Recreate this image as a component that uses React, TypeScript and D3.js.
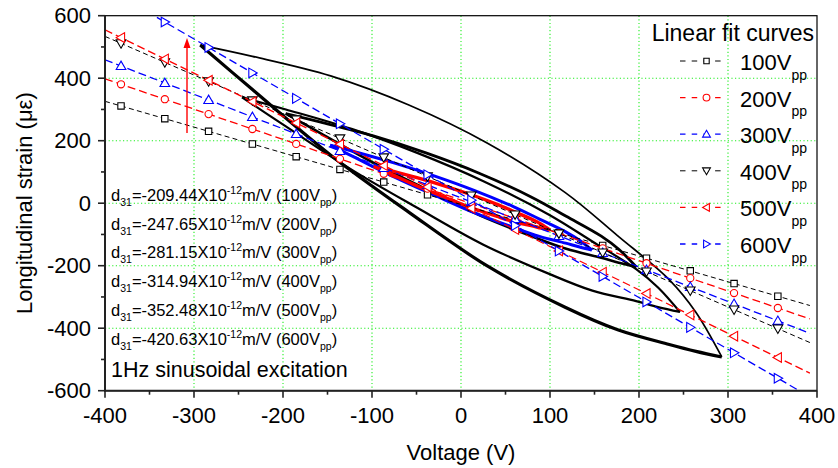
import React from "react";
import * as d3 from "d3";

// ---------- data ----------
const xTicks = [-400, -300, -200, -100, 0, 100, 200, 300, 400];
const yTicks = [-600, -400, -200, 0, 200, 400, 600];
const xGrid = [-300, -200, -100, 0, 100, 200, 300];
const yGrid = [-400, -200, 0, 200, 400];

const seriesNames = ["100", "200", "300", "400", "500", "600"];
const seriesColors = ["#000000", "#ff0000", "#0000ff", "#000000", "#ff0000", "#0000ff"];
const seriesSymbols = ["square", "circle", "triUp", "triDown", "triLeft", "triRight"];
const fitSlopes = [-0.825, -0.97, -1.105, -1.237, -1.387, -1.655];
const fitIntercepts = [-4, 10, 17, 39, 0, 29];
const fitRange = [-400, 392];
const d31Values = ["-209.44", "-247.65", "-281.15", "-314.94", "-352.48", "-420.63"];
const markerVoltages = [-382, -332.8, -283.6, -234.4, -185.2, -136, -86.8, -37.6, 11.6, 60.8, 110, 159.2, 208.4, 257.6, 306.8, 356];

// hysteresis loops (voltage, strain): upper and lower branches
const loop600Upper = [[-293, 506], [-234.4, 470], [-146.5, 407.5], [-58.6, 314.5], [29.3, 193], [117.2, 34], [175.8, -103.6], [234.4, -246], [263.7, -348], [293, -492]];
const loop600Lower = [[-293, 506], [-234, 363], [-146, 153], [-58, -30], [29, -200], [117, -333], [176, -405], [234, -452], [264, -474], [293, -492]];
const loop500Upper = [[-246, 339], [-196.8, 300], [-123, 237.7], [-49.2, 161], [24.6, 71.2], [98.4, -36.2], [147.6, -122.5], [196.8, -211], [221.4, -269.5], [246, -348]];
const loop500Lower = [[-246, 339], [-196.8, 245.6], [-123, 107.4], [-49.2, -14.7], [24.6, -131.9], [98.4, -225.4], [147.6, -279.9], [196.8, -313.4], [221.4, -332.5], [246, -348]];
const loop400Upper = [[-197, 287], [-157.6, 259.5], [-98.5, 215.4], [-39.4, 161], [19.7, 96.9], [78.8, 20.1], [118.2, -41.8], [157.6, -105.3], [177.3, -147.5], [197, -204]];
const loop400Lower = [[-197, 287], [-157.6, 223.6], [-98.5, 129.5], [-39.4, 44.9], [19.7, -37], [78.8, -105.1], [118.2, -146], [157.6, -174.7], [177.3, -190.5], [197, -204]];
const loop300Upper = [[-147, 186], [-117.6, 163.2], [-73.5, 127.6], [-29.4, 86.8], [14.7, 41.2], [58.8, -10.8], [88.2, -50.8], [117.6, -91.6], [132.3, -117.2], [147, -150]];
const loop300Lower = [[-147, 186], [-117.6, 144.1], [-73.5, 81.8], [-29.4, 25], [14.7, -30.2], [58.8, -77.4], [88.2, -106.2], [117.6, -127.9], [132.3, -139.6], [147, -150]];
const loop200Upper = [[-98, 118], [-78.2, 103.5], [-48.5, 81.1], [-18.8, 55.8], [10.9, 27.8], [40.6, -3.7], [60.4, -27.6], [80.2, -52], [90.1, -67], [100, -86]];
const loop200Lower = [[-98, 118], [-78.2, 92.4], [-48.5, 54.4], [-18.8, 19.8], [10.9, -13.8], [40.6, -42.4], [60.4, -59.8], [80.2, -72.8], [90.1, -79.8], [100, -86]];

const FONT = "'Liberation Sans', Arial, Helvetica, sans-serif";

export default function App() {
  const W = 838, H = 468;
  const x = d3.scaleLinear().domain([-400, 400]).range([105, 817]);
  const y = d3.scaleLinear().domain([-600, 600]).range([390.7, 15.7]);
  const [x0, x1] = x.range();
  const [y0, y1] = y.range();

  const line = d3
    .line<number[]>()
    .x((d) => x(d[0]))
    .y((d) => y(d[1]))
    .curve(d3.curveCatmullRom.alpha(0.5));

  const symbolPath = (kind: string, cx: number, cy: number, s: number) => {
    const h = s / 2;
    switch (kind) {
      case "square":
        return `M${cx - h},${cy - h}H${cx + h}V${cy + h}H${cx - h}Z`;
      case "triUp":
        return `M${cx},${cy - h * 1.15}L${cx + h * 1.15},${cy + h * 0.85}L${cx - h * 1.15},${cy + h * 0.85}Z`;
      case "triDown":
        return `M${cx},${cy + h * 1.15}L${cx + h * 1.15},${cy - h * 0.85}L${cx - h * 1.15},${cy - h * 0.85}Z`;
      case "triLeft":
        return `M${cx - h * 1.15},${cy}L${cx + h * 0.85},${cy - h * 1.15}L${cx + h * 0.85},${cy + h * 1.15}Z`;
      case "triRight":
        return `M${cx + h * 1.15},${cy}L${cx - h * 0.85},${cy - h * 1.15}L${cx - h * 0.85},${cy + h * 1.15}Z`;
      default:
        return "";
    }
  };

  const drawSymbol = (kind: string, cx: number, cy: number, s: number, color: string, key: string) =>
    kind === "circle" ? (
      <circle key={key} cx={cx} cy={cy} r={s / 2} fill="#fff" stroke={color} strokeWidth={1.1} />
    ) : (
      <path key={key} d={symbolPath(kind, cx, cy, s)} fill="#fff" stroke={color} strokeWidth={1.1} />
    );

  const minorX = d3.range(-400, 401, 50).filter((v) => v % 100 !== 0);
  const minorY = d3.range(-600, 601, 100).filter((v) => v % 200 !== 0);

  const loops = [
    { up: loop600Upper, lo: loop600Lower, color: "#000", wu: 1.7, wl: 3.2 },
    { up: loop500Upper, lo: loop500Lower, color: "#000", wu: 2.2, wl: 2.2 },
    { up: loop400Upper, lo: loop400Lower, color: "#000", wu: 2.8, wl: 2.6 },
    { up: loop300Upper, lo: loop300Lower, color: "#0000ff", wu: 3, wl: 3 },
    { up: loop200Upper, lo: loop200Lower, color: "#ff0000", wu: 3.4, wl: 3.4 },
  ];

  const annBase = 201;
  const annStep = 28.7;

  return (
    <svg width={W} height={H} style={{ position: "absolute", left: 0, top: 0, background: "#fff" }} fontFamily={FONT}>
      <defs>
        <clipPath id="plot">
          <rect x={x0} y={y1} width={x1 - x0} height={y0 - y1} />
        </clipPath>
      </defs>
      <rect x={0} y={0} width={W} height={H} fill="#fff" />

      {/* grid */}
      <g stroke="#22ee22" strokeWidth={1.1} strokeDasharray="1.2 2.4">
        {xGrid.map((v) => (
          <line key={"gx" + v} x1={x(v)} x2={x(v)} y1={y1} y2={y0} />
        ))}
        {yGrid.map((v) => (
          <line key={"gy" + v} x1={x0} x2={x1} y1={y(v)} y2={y(v)} />
        ))}
      </g>

      <g clipPath="url(#plot)">
        {/* loops */}
        {loops.map((l, i) => (
          <g key={"loop" + i} fill="none" stroke={l.color} strokeLinejoin="round">
            <path d={line(l.up) || ""} strokeWidth={l.wu} />
            <path d={line(l.lo) || ""} strokeWidth={l.wl} />
          </g>
        ))}

        {/* fit lines */}
        {seriesNames.map((n, i) => {
          const black = seriesColors[i] === "#000000";
          const pts = fitRange.map((v) => [v, fitSlopes[i] * v + fitIntercepts[i]]);
          return (
            <line
              key={"fit" + n}
              x1={x(pts[0][0])}
              y1={y(pts[0][1])}
              x2={x(pts[1][0])}
              y2={y(pts[1][1])}
              stroke={seriesColors[i]}
              strokeWidth={black ? 1 : 1.3}
              strokeDasharray={black ? "5 3.3" : "8 4"}
            />
          );
        })}

        {/* markers */}
        {seriesNames.map((n, i) =>
          markerVoltages
            .map((v) => [v, fitSlopes[i] * v + fitIntercepts[i]])
            .filter((p) => p[1] <= 600 && p[1] >= -600)
            .map((p, k) => drawSymbol(seriesSymbols[i], x(p[0]), y(p[1]), seriesSymbols[i] === "square" ? 6.4 : seriesSymbols[i] === "circle" ? 7.2 : 8.4, seriesColors[i], `m${n}-${k}`))
        )}
      </g>

      {/* red arrow */}
      <line x1={187} x2={187} y1={133} y2={46} stroke="#ff0000" strokeWidth={1.4} />
      <path d="M187,38 L190.5,48 L183.5,48 Z" fill="#ff0000" />

      {/* frame */}
      <rect x={x0} y={y1} width={x1 - x0} height={y0 - y1} fill="none" stroke="#000" strokeWidth={1.2} />
      <line x1={x0} x2={x0} y1={y1} y2={y0 + 1} stroke="#222" strokeWidth={2} />
      <line x1={x0 - 1} x2={x1} y1={y0} y2={y0} stroke="#222" strokeWidth={2} />

      {/* ticks */}
      <g stroke="#222" strokeWidth={1.6}>
        {xTicks.map((v) => (
          <line key={"tx" + v} x1={x(v)} x2={x(v)} y1={y0} y2={y0 + 7} />
        ))}
        {minorX.map((v) => (
          <line key={"mx" + v} x1={x(v)} x2={x(v)} y1={y0} y2={y0 + 4} />
        ))}
        {yTicks.map((v) => (
          <line key={"ty" + v} x1={x0 - 7} x2={x0} y1={y(v)} y2={y(v)} />
        ))}
        {minorY.map((v) => (
          <line key={"my" + v} x1={x0 - 4} x2={x0} y1={y(v)} y2={y(v)} />
        ))}
      </g>

      {/* tick labels */}
      <g fontSize={22} fill="#000">
        {xTicks.map((v) => (
          <text key={"lx" + v} x={x(v)} y={422.7} textAnchor="middle">
            {v}
          </text>
        ))}
        {yTicks.map((v) => (
          <text key={"ly" + v} x={91} y={y(v) + 7.5} textAnchor="end">
            {v}
          </text>
        ))}
      </g>

      {/* axis titles */}
      <text x={(x0 + x1) / 2} y={460} fontSize={22} textAnchor="middle">
        Voltage (V)
      </text>
      <text transform={`translate(32,${(y0 + y1) / 2}) rotate(-90)`} fontSize={22} textAnchor="middle">
        Longitudinal strain (με)
      </text>

      {/* annotations */}
      <g fontSize={16.5} fill="#000">
        {seriesNames.map((n, i) => (
          <text key={"ann" + n} x={111} y={annBase + i * annStep}>
            d
            <tspan fontSize={10.5} dy={5}>
              31
            </tspan>
            <tspan dy={-5}>{"=" + d31Values[i] + "X10"}</tspan>
            <tspan fontSize={10.5} dy={-7}>
              -12
            </tspan>
            <tspan dy={7}>{"m/V (" + n + "V"}</tspan>
            <tspan fontSize={10.5} dy={5}>
              pp
            </tspan>
            <tspan dy={-5}>)</tspan>
          </text>
        ))}
        <text x={111} y={377} fontSize={21.5}>
          1Hz sinusoidal excitation
        </text>
      </g>

      {/* legend */}
      <text x={814} y={40.5} fontSize={23} textAnchor="end">
        Linear fit curves
      </text>
      {seriesNames.map((n, i) => {
        const cy = 61 + i * 36.6;
        const black = seriesColors[i] === "#000000";
        return (
          <g key={"leg" + n}>
            <line x1={680} x2={725} y1={cy} y2={cy} stroke={seriesColors[i]} strokeWidth={black ? 1 : 1.3} strokeDasharray="5.5 6.2" />
            {drawSymbol(seriesSymbols[i], 706.5, cy, seriesSymbols[i] === "square" ? 5.4 : 6.8, seriesColors[i], "ls" + n)}
            <text x={740} y={cy + 9} fontSize={22}>
              {n}V
              <tspan fontSize={14} dy={9.5}>
                pp
              </tspan>
            </text>
          </g>
        );
      })}
    </svg>
  );
}
